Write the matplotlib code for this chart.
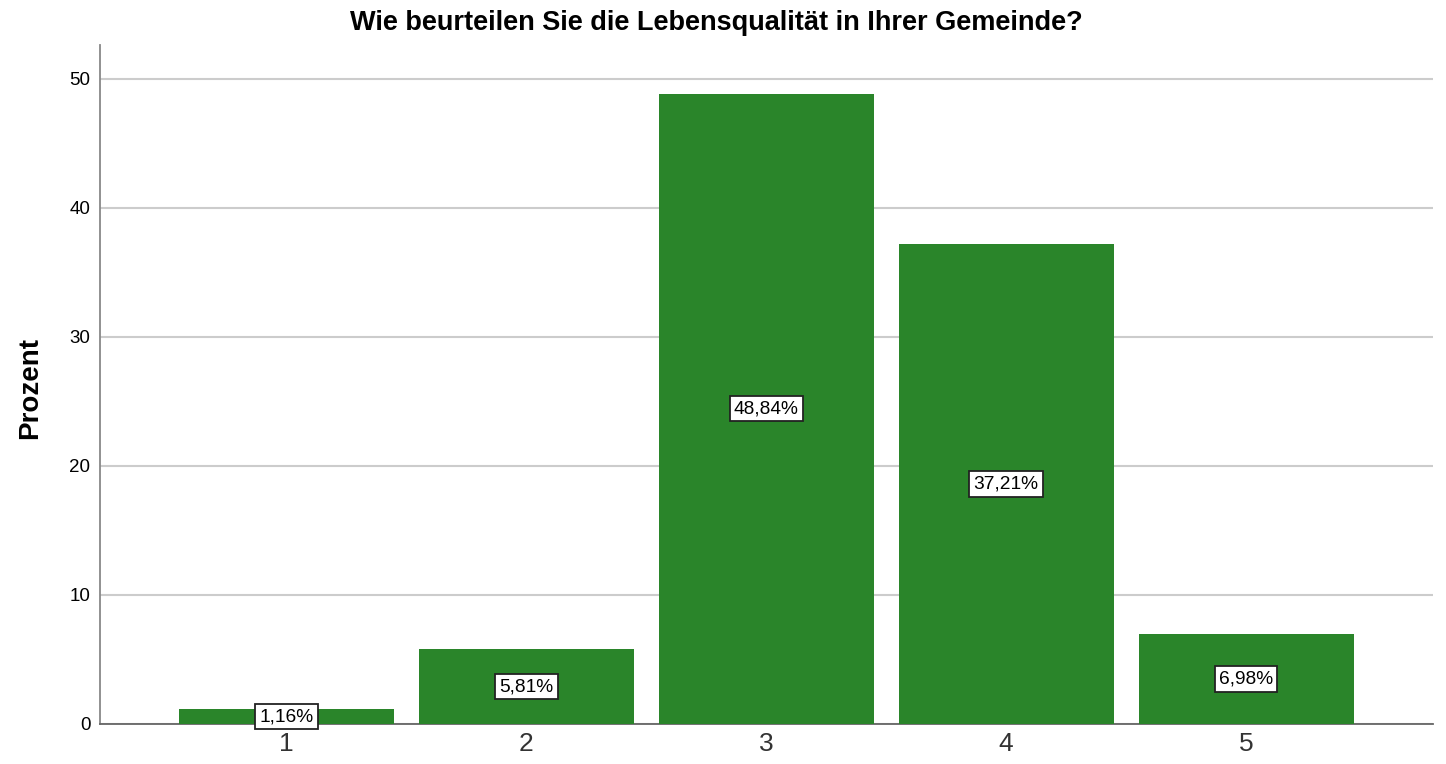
import matplotlib
matplotlib.use("Agg")
import matplotlib.pyplot as plt

categories = ["1", "2", "3", "4", "5"]
values = [1.16, 5.81, 48.84, 37.21, 6.98]
labels = ["1,16%", "5,81%", "48,84%", "37,21%", "6,98%"]
yticks = [0, 10, 20, 30, 40, 50]

plt.rcParams['font.family'] = ['Liberation Sans', 'DejaVu Sans']

fig = plt.figure(figsize=(14.46, 7.64), dpi=100)
ax = fig.add_axes([100/1446, 40/764, 1333/1446, 679/764])

x = list(range(1, len(categories) + 1))
ax.bar(x, values, width=0.896, color='#2a852a', zorder=3)
for xi, v, lab in zip(x, values, labels):
    ax.text(xi, v / 2, lab, ha='center', va='center', fontsize=13.8, zorder=4,
            bbox=dict(boxstyle='square,pad=0.22', facecolor='white', edgecolor='#222222', linewidth=1.3))

ax.set_xlim(0.223, 5.779)
ax.set_ylim(0, 52.6)
ax.set_xticks(x)
ax.set_xticklabels(categories, fontsize=19, color='#333333')
ax.set_yticks(yticks)
ax.set_yticklabels([str(t) for t in yticks], fontsize=13.5)
ax.tick_params(axis='x', length=0, pad=6)
ax.tick_params(axis='y', length=0, pad=7)
ax.grid(axis='y', color='#cccccc', linewidth=1.5, zorder=0)
for s in ['top', 'right']:
    ax.spines[s].set_visible(False)
ax.spines['left'].set_color('#888888')
ax.spines['bottom'].set_color('#666666')
for s in ['left', 'bottom']:
    ax.spines[s].set_linewidth(1.3)

ax.set_ylabel('Prozent', fontsize=20, fontweight='bold')
ax.yaxis.set_label_coords((43 - 100) / 1333, 0.5 - (385 - 381.5) / 679)
fig.suptitle('Wie beurteilen Sie die Lebensqualität in Ihrer Gemeinde?', fontsize=19.5,
             fontweight='bold', x=716/1446, y=1 - 23/764, va='center')

fig.savefig('out.png', dpi=100)
